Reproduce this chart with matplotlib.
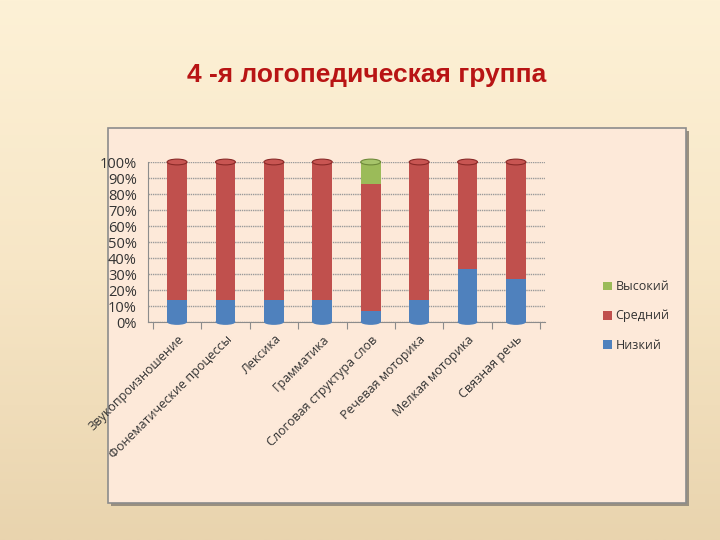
import numpy as np
import matplotlib
matplotlib.use('Agg')
import matplotlib.pyplot as plt
from matplotlib.patches import Rectangle, Ellipse
from matplotlib.colors import LinearSegmentedColormap
from matplotlib.ticker import PercentFormatter

plt.rcParams['font.family'] = ['Open Sans', 'DejaVu Sans']

# data (percent)
categories = ['Звукопроизношение', 'Фонематические процессы', 'Лексика', 'Грамматика',
              'Слоговая структура слов', 'Речевая моторика', 'Мелкая моторика', 'Связная речь']
low = [14, 14, 13.5, 14, 7, 14, 33, 27]
mid = [86, 86, 86.5, 86, 79, 86, 67, 73]
high = [0, 0, 0, 0, 14, 0, 0, 0]

c_low, c_mid, c_high = '#4f81bd', '#c0504d', '#9bbb59'

fig = plt.figure(figsize=(7.2, 5.4), dpi=100)

# slide background gradient
bg = fig.add_axes([0, 0, 1, 1], zorder=-10)
grad = np.linspace(0, 1, 256).reshape(-1, 1)
cmap = LinearSegmentedColormap.from_list('bg', ['#fdf1d6', '#f7e6c6', '#e9d4ae'])
bg.imshow(grad, aspect='auto', cmap=cmap, extent=[0, 1, 0, 1], origin='upper')
bg.set_axis_off()

# chart box with shadow
fig.patches.append(Rectangle((111 / 720, 1 - 506 / 540), 578 / 720, 375 / 540,
                             transform=fig.transFigure, facecolor='#9a9080', edgecolor='none', zorder=-5))
fig.patches.append(Rectangle((108 / 720, 1 - 503 / 540), 578 / 720, 375 / 540,
                             transform=fig.transFigure, facecolor='#fde9d9', edgecolor='#8c8c8c',
                             linewidth=1.2, zorder=-4))

fig.text(367 / 720, 1 - 75 / 540, '4 -я логопедическая группа', ha='center', va='center',
         fontsize=19, fontweight='bold', color='#b81414', family=['Liberation Sans', 'DejaVu Sans'])

ax = fig.add_axes([148 / 720, 1 - 322 / 540, 397 / 720, 160 / 540])
ax.set_facecolor('none')
x = np.arange(len(categories))
w = 0.41
bottoms_mid = np.array(low)
bottoms_high = bottoms_mid + np.array(mid)
ax.bar(x, low, w, color=c_low, label='Низкий', zorder=3)
ax.bar(x, mid, w, bottom=bottoms_mid, color=c_mid, label='Средний', zorder=3)
ax.bar(x, high, w, bottom=bottoms_high, color=c_high, label='Высокий', zorder=3)

# cylinder caps
tops = bottoms_high + np.array(high)
for xi, t, hv in zip(x, tops, high):
    ax.add_patch(Ellipse((xi, t), w, 3.6, facecolor='#a6c46a' if hv > 0 else '#c85552',
                         edgecolor='#6f8a3a' if hv > 0 else '#8a2a28', linewidth=0.8,
                         zorder=4, clip_on=False))
    ax.add_patch(Ellipse((xi, 0), w, 3.6, facecolor=c_low, edgecolor='none', zorder=2.9,
                         clip_on=False))

ax.set_xlim(-0.6, len(categories) - 0.4)
ax.set_ylim(0, 100)
ax.set_yticks(np.arange(0, 101, 10))
ax.yaxis.set_major_formatter(PercentFormatter(decimals=0))
ax.grid(axis='y', color='#9a9a9a', linewidth=1.0, linestyle=(0, (1, 0.6)), zorder=1)
ax.set_xticks(np.arange(len(categories) + 1) - 0.5, minor=False)
ax.set_xticklabels([])
ax.set_xticks(x, minor=True)
ax.set_xticklabels(categories, minor=True, rotation=45, ha='right', rotation_mode='anchor',
                   fontsize=9, color='#333333')
ax.tick_params(axis='x', which='minor', length=0, pad=8)
ax.tick_params(axis='x', which='major', length=5, color='#8c8c8c')
ax.tick_params(axis='y', length=0, labelsize=10.5, labelcolor='#333333', pad=8)
for s in ['top', 'right']:
    ax.spines[s].set_visible(False)
ax.spines['left'].set_color('#8c8c8c')
ax.spines['bottom'].set_color('#8c8c8c')

handles, labels = ax.get_legend_handles_labels()
leg = fig.legend(handles[::-1], labels[::-1], loc='center left',
                 bbox_to_anchor=(592 / 720, 1 - 316 / 540), frameon=False,
                 fontsize=9, handlelength=0.7, handleheight=0.7, handletextpad=0.3,
                 labelspacing=1.3)
for t in leg.get_texts():
    t.set_color('#333333')

fig.savefig('out.png', dpi=100)
